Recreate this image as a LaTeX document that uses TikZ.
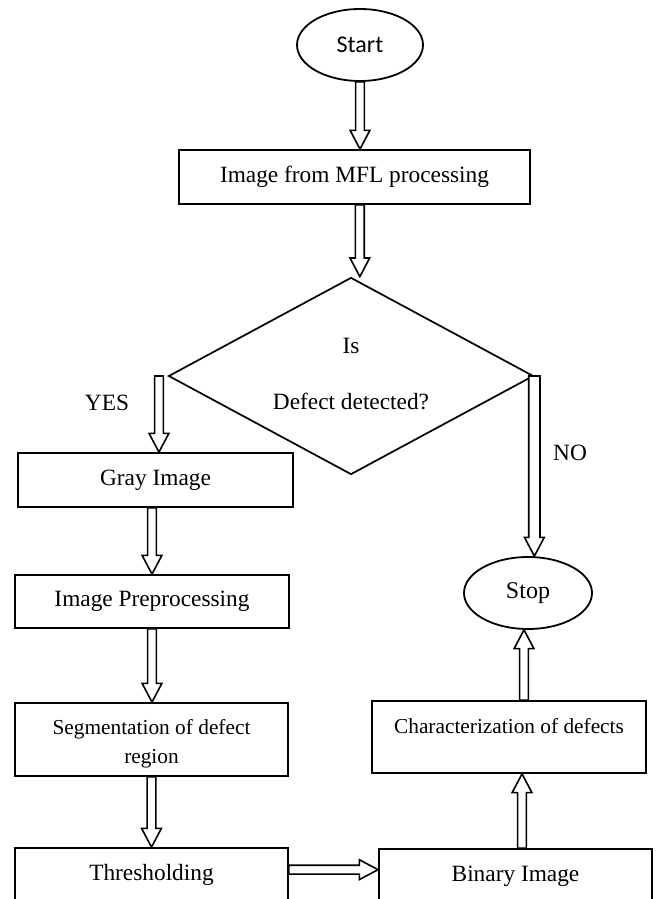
\documentclass[tikz,border=0pt]{standalone}
\usepackage{fontspec}
\setmainfont{Liberation Serif}
\newfontfamily\calibrifont{Carlito}
\usetikzlibrary{shapes.geometric,calc}
\tikzset{
  box/.style={draw, line width=1.35pt, rectangle, inner sep=0pt, font=\fontsize{17.5}{21}\selectfont},
  smallbox/.style={box, font=\fontsize{16}{21.75}\selectfont, align=center},
  oval/.style={draw, line width=1.35pt, ellipse, inner sep=0pt},
  decision/.style={draw, line width=1.3pt, diamond, inner sep=0pt},
  txt/.style={inner sep=0pt, font=\fontsize{17.5}{21}\selectfont},
  barrow/.style={draw, line width=1.2pt, fill=white, line join=miter}
}
\newcommand\blockarr[3][3.3pt]{%
  \draw[barrow] let \p1=#2, \p2=#3,
    \n1={atan2(\y2-\y1,\x2-\x1)}, \n2={veclen(\x2-\x1,\y2-\y1)} in
    [shift={(\p1)}, rotate=\n1]
    (0pt,#1) -- ({\n2*1pt-14pt},#1) -- ({\n2*1pt-14pt},7.4pt) -- ({\n2*1pt},0pt)
    -- ({\n2*1pt-14pt},-7.4pt) -- ({\n2*1pt-14pt},-#1) -- (0pt,-#1) -- cycle;}
\begin{document}
\begin{tikzpicture}[x=0.75pt,y=-0.75pt]
\useasboundingbox (0,0) rectangle (659,899);
% nodes
\node[oval, minimum width=94.5pt, minimum height=54pt, font=\calibrifont\fontsize{18}{21}\selectfont] (start) at (360,45) {Start};
\node[box, minimum width=263.25pt, minimum height=40.5pt] (mfl) at (354.5,177) {Image from MFL processing};
\node[decision, minimum width=273.75pt, minimum height=147.75pt] (dia) at (351,376) {};
\node[txt] (is) at (351,346) {Is};
\node[txt] (dd) at (351,401) {Defect detected?};
\node[box, minimum width=206.25pt, minimum height=40.5pt] (gray) at (155.5,480) {Gray Image};
\node[box, minimum width=205.5pt, minimum height=39.75pt] (prep) at (152,601.5) {Image Preprocessing};
\node[smallbox, minimum width=204.75pt, minimum height=54.75pt] (seg) at (151.5,739.5) {\rule{0pt}{17pt}Segmentation of defect\\region};
\node[box, minimum width=204.75pt, minimum height=40.5pt] (thr) at (151.5,875) {Thresholding};
\node[box, minimum width=204.75pt, minimum height=40.5pt] (bin) at (515.5,876) {Binary Image};
\node[box, font=\fontsize{16}{21.75}\selectfont, text height=11pt, text depth=17pt, minimum width=205.5pt, minimum height=54pt] (char) at (509,737) {Characterization of defects};
\node[oval, minimum width=96pt, minimum height=54pt, font=\fontsize{18}{21}\selectfont] (stop) at (528,593) {Stop};
\node[txt] (yes) at (107,403) {YES};
\node[txt] (no) at (570,453) {NO};
% connectors
\blockarr{(start.south)}{(start.south |- mfl.north)}
\blockarr{([xshift=4pt]mfl.south)}{([xshift=4pt]mfl.south |- dia.north)}
\blockarr{([xshift=2.6pt]gray.north |- dia.west)}{([xshift=2.6pt]gray.north)}
\blockarr{(prep.north |- gray.south)}{(prep.north)}
\blockarr{(prep.south)}{(prep.south |- seg.north)}
\blockarr{(seg.south)}{(seg.south |- thr.north)}
\blockarr{([yshift=4pt]thr.east)}{([yshift=4pt]thr.east -| bin.west)}
\blockarr{([xshift=4.9pt]bin.north)}{([xshift=4.9pt]bin.north |- char.south)}
\blockarr{([xshift=-3pt]stop.south |- char.north)}{([xshift=-3pt]stop.south)}
\blockarr[4.2pt]{(dia.east)}{(dia.east |- stop.north)}
\end{tikzpicture}
\end{document}
